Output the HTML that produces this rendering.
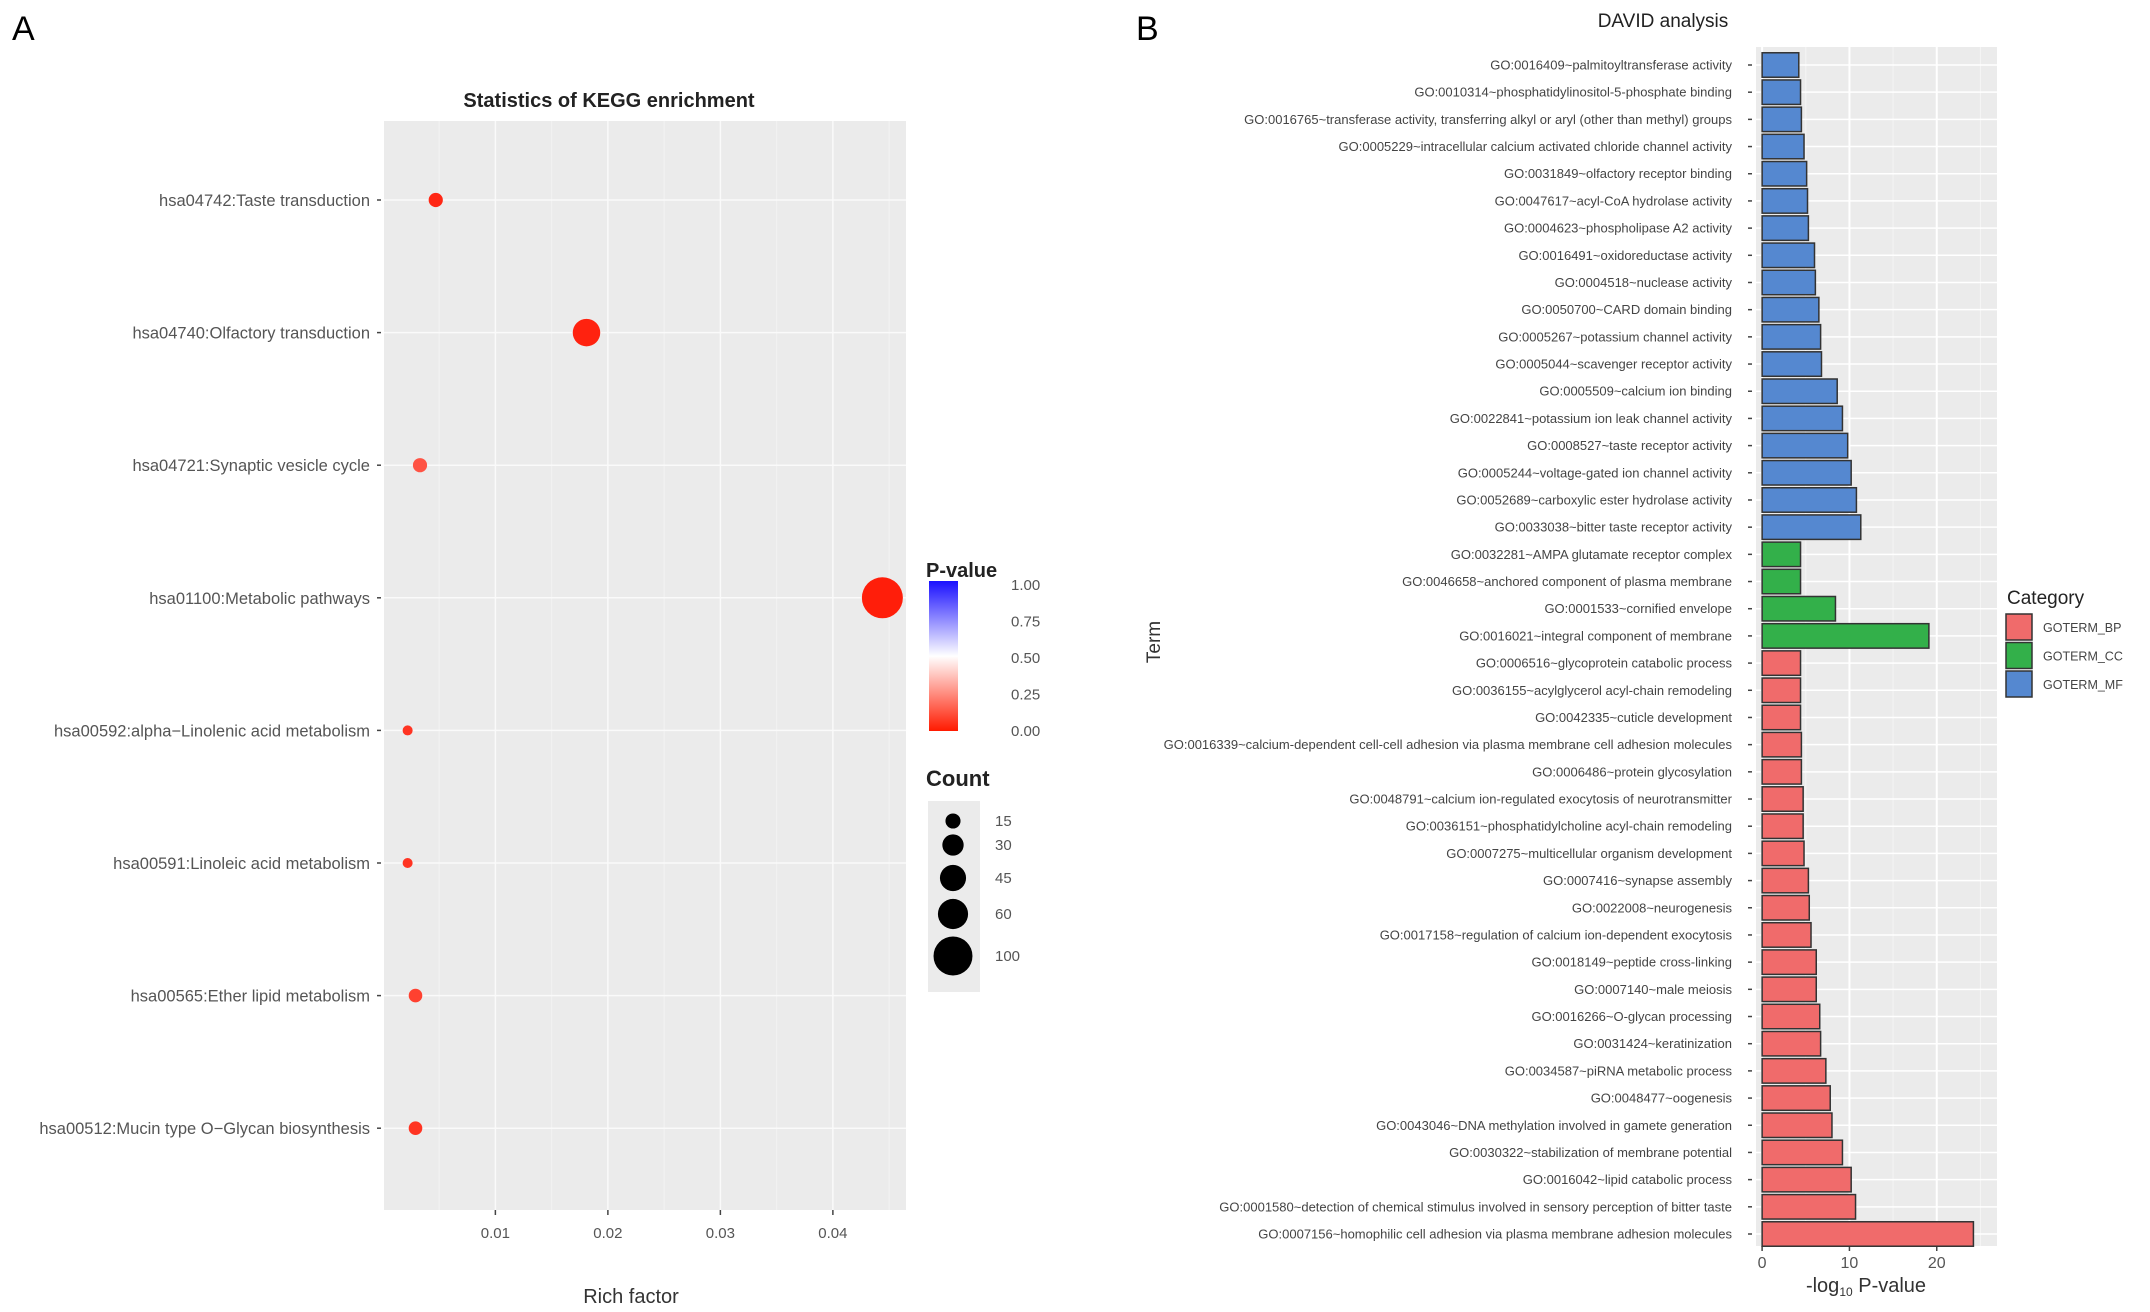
<!DOCTYPE html>
<html><head><meta charset="utf-8">
<style>
html,body{margin:0;padding:0;background:#fff;}
svg{display:block;font-family:"Liberation Sans",Arial,sans-serif;}
</style></head>
<body>
<svg id="fig" width="2150" height="1312" viewBox="0 0 2150 1312" xmlns="http://www.w3.org/2000/svg">
<text x="12" y="40" font-size="34" fill="#000">A</text>
<text x="1136" y="40" font-size="34" fill="#000">B</text>
<g id="panelA"></g>
<g id="panelB"></g>
</svg>
<script>
// ---------- Panel A data ----------
const keggTerms = ["hsa04742:Taste transduction","hsa04740:Olfactory transduction","hsa04721:Synaptic vesicle cycle","hsa01100:Metabolic pathways","hsa00592:alpha\u2212Linolenic acid metabolism","hsa00591:Linoleic acid metabolism","hsa00565:Ether lipid metabolism","hsa00512:Mucin type O\u2212Glycan biosynthesis"];
const keggRich = [0.0047,0.0181,0.0033,0.0444,0.0022,0.0022,0.0029,0.0029];
const keggCount = [12,45,12,100,6,6,11,11];
const keggP = [0.02,0.01,0.12,0.0,0.05,0.05,0.08,0.05];
const richTicks = [0.01,0.02,0.03,0.04];
const countLegend = [15,30,45,60,100];
const pTicks = [1.00,0.75,0.50,0.25,0.00];

// ---------- Panel B data ----------
const goTerms = ["GO:0016409~palmitoyltransferase activity","GO:0010314~phosphatidylinositol-5-phosphate binding","GO:0016765~transferase activity, transferring alkyl or aryl (other than methyl) groups","GO:0005229~intracellular calcium activated chloride channel activity","GO:0031849~olfactory receptor binding","GO:0047617~acyl-CoA hydrolase activity","GO:0004623~phospholipase A2 activity","GO:0016491~oxidoreductase activity","GO:0004518~nuclease activity","GO:0050700~CARD domain binding","GO:0005267~potassium channel activity","GO:0005044~scavenger receptor activity","GO:0005509~calcium ion binding","GO:0022841~potassium ion leak channel activity","GO:0008527~taste receptor activity","GO:0005244~voltage-gated ion channel activity","GO:0052689~carboxylic ester hydrolase activity","GO:0033038~bitter taste receptor activity","GO:0032281~AMPA glutamate receptor complex","GO:0046658~anchored component of plasma membrane","GO:0001533~cornified envelope","GO:0016021~integral component of membrane","GO:0006516~glycoprotein catabolic process","GO:0036155~acylglycerol acyl-chain remodeling","GO:0042335~cuticle development","GO:0016339~calcium-dependent cell-cell adhesion via plasma membrane cell adhesion molecules","GO:0006486~protein glycosylation","GO:0048791~calcium ion-regulated exocytosis of neurotransmitter","GO:0036151~phosphatidylcholine acyl-chain remodeling","GO:0007275~multicellular organism development","GO:0007416~synapse assembly","GO:0022008~neurogenesis","GO:0017158~regulation of calcium ion-dependent exocytosis","GO:0018149~peptide cross-linking","GO:0007140~male meiosis","GO:0016266~O-glycan processing","GO:0031424~keratinization","GO:0034587~piRNA metabolic process","GO:0048477~oogenesis","GO:0043046~DNA methylation involved in gamete generation","GO:0030322~stabilization of membrane potential","GO:0016042~lipid catabolic process","GO:0001580~detection of chemical stimulus involved in sensory perception of bitter taste","GO:0007156~homophilic cell adhesion via plasma membrane adhesion molecules"];
const goValues = [4.2,4.4,4.5,4.8,5.1,5.2,5.3,6.0,6.1,6.5,6.7,6.8,8.6,9.2,9.8,10.2,10.8,11.3,4.4,4.4,8.4,19.1,4.4,4.4,4.4,4.5,4.5,4.7,4.7,4.8,5.3,5.4,5.6,6.2,6.2,6.6,6.7,7.3,7.8,8.0,9.2,10.2,10.7,24.2];
const goCategory = ["MF","MF","MF","MF","MF","MF","MF","MF","MF","MF","MF","MF","MF","MF","MF","MF","MF","MF","CC","CC","CC","CC","BP","BP","BP","BP","BP","BP","BP","BP","BP","BP","BP","BP","BP","BP","BP","BP","BP","BP","BP","BP","BP","BP"];
const logTicks = [0,10,20];
const catNames = ["GOTERM_BP","GOTERM_CC","GOTERM_MF"];

const NS="http://www.w3.org/2000/svg";
function mk(parent,tag,attrs,text){const e=document.createElementNS(NS,tag);for(const k in attrs)e.setAttribute(k,attrs[k]);if(text!==undefined)e.textContent=text;parent.appendChild(e);return e;}

// ---------- Panel A ----------
(function(){
const g=document.getElementById('panelA');
const L=384,R=906,T=121,B=1210;
const xmin=0.0001,xmax=0.0465;
const xA=v=>L+(v-xmin)/(xmax-xmin)*(R-L);
const yA=i=>200+i*132.6;
const rA=c=>2.05*Math.sqrt(c);
let e=mk(g,'rect',{x:L,y:T,width:R-L,height:B-T,fill:'#ebebeb'});

const minors=[0.005,0.015,0.025,0.035,0.045];
minors.forEach(v=>{const m=mk(g,'line',{x1:xA(v),x2:xA(v),y1:T,y2:B,stroke:'#f2f2f2','stroke-width':1});});
richTicks.forEach(v=>{const m=mk(g,'line',{x1:xA(v),x2:xA(v),y1:T,y2:B,stroke:'#fafafa','stroke-width':1.5});
 const tk=mk(g,'line',{x1:xA(v),x2:xA(v),y1:B,y2:B+5,stroke:'#444','stroke-width':1.5});
 const t=mk(g,'text',{x:xA(v),y:B+28,'text-anchor':'middle','font-size':15,fill:'#555'},v.toFixed(2));});
keggTerms.forEach((s,i)=>{const y=yA(i);
 const gl=mk(g,'line',{x1:L,x2:R,y1:y,y2:y,stroke:'#fafafa','stroke-width':1.5});
 const tk=mk(g,'line',{x1:L-7,x2:L-3,y1:y,y2:y,stroke:'#444','stroke-width':1.5});
 const t=mk(g,'text',{x:L-14,y:y+6,'text-anchor':'end','font-size':16.5,fill:'#555',textLength:'',}, s);t.removeAttribute('textLength');});
const pcol=p=>{ if(p<=0.5){const f=p/0.5;return `rgb(255,${Math.round(30+f*220)},${Math.round(10+f*240)})`;} const f=(p-0.5)/0.5;return `rgb(${Math.round(250-f*240)},${Math.round(250-f*240)},255)`;};
keggTerms.forEach((s,i)=>{const c=mk(g,'circle',{cx:xA(keggRich[i]),cy:yA(i),r:rA(keggCount[i]),fill:pcol(keggP[i])});
 });
e=mk(g,'text',{x:609,y:107,'text-anchor':'middle','font-size':20,'font-weight':'bold',fill:'#222'},'Statistics of KEGG enrichment');
e=mk(g,'text',{x:631,y:1303,'text-anchor':'middle','font-size':20,fill:'#333'},'Rich factor');
e=mk(g,'text',{x:926,y:577,'font-size':20,'font-weight':'bold',fill:'#222'},'P-value');
const defs=mk(g,'defs',{});const lg=mk(defs,'linearGradient',{id:'pg',x1:0,y1:0,x2:0,y2:1});
mk(lg,'stop',{offset:'0%','stop-color':'#1a10ff'});mk(lg,'stop',{offset:'50%','stop-color':'#ffffff'});mk(lg,'stop',{offset:'100%','stop-color':'#ff1a00'});
e=mk(g,'rect',{x:929,y:581,width:29,height:150,fill:'url(#pg)'});
pTicks.forEach(v=>{const y=581+(1-v)*146+4;const t=mk(g,'text',{x:1011,y:y+5,'font-size':15,fill:'#555'},v.toFixed(2));});
e=mk(g,'text',{x:926,y:786,'font-size':22,'font-weight':'bold',fill:'#222'},'Count');
e=mk(g,'rect',{x:928,y:801,width:52,height:191,fill:'#ebebeb'});
const keyY=[821,845,878,914,956];
countLegend.forEach((c,i)=>{const r=rA(c)*0.95;
 const ci=mk(g,'circle',{cx:953,cy:keyY[i],r:r,fill:'#000'});
 const t=mk(g,'text',{x:995,y:keyY[i]+5,'font-size':15,fill:'#555'},String(c));});
})();

// ---------- Panel B ----------
(function(){
const g=document.getElementById('panelB');
const L=1756,R=1997,T=47,B=1246;
const vmin=-0.7,vmax=26.9;
const xB=v=>L+(v-vmin)/(vmax-vmin)*(R-L);
const step=(1234-65)/(goTerms.length-1);
const yB=i=>65+i*step;
const colors={BP:'#f06b6b',CC:'#33b04a',MF:'#5588d0'};
let e=mk(g,'rect',{x:L,y:T,width:R-L,height:B-T,fill:'#ebebeb'});
[5,15,25].forEach(v=>{const m=mk(g,'line',{x1:xB(v),x2:xB(v),y1:T,y2:B,stroke:'#f4f4f4','stroke-width':1});});
logTicks.forEach(v=>{const m=mk(g,'line',{x1:xB(v),x2:xB(v),y1:T,y2:B,stroke:'#fff','stroke-width':2});
 const tk=mk(g,'line',{x1:xB(v),x2:xB(v),y1:B,y2:B+5,stroke:'#444','stroke-width':1.5});
 const t=mk(g,'text',{x:xB(v),y:B+22,'text-anchor':'middle','font-size':16,fill:'#555'},String(v));});
goTerms.forEach((s,i)=>{const y=yB(i);
 const gl=mk(g,'line',{x1:L,x2:R,y1:y,y2:y,stroke:'#fff','stroke-width':1.5});
 const tk=mk(g,'line',{x1:L-8,x2:L-4,y1:y,y2:y,stroke:'#444','stroke-width':1.5});
 const t=mk(g,'text',{x:L-24,y:y+4.5,'text-anchor':'end','font-size':13,fill:'#444'},s);});
const bh=step*0.9;
goTerms.forEach((s,i)=>{const x0=xB(0),x1=xB(goValues[i]);
 const b=mk(g,'rect',{x:x0,y:yB(i)-bh/2,width:x1-x0,height:bh,fill:colors[goCategory[i]],stroke:'#333','stroke-width':1.5});
 });
e=mk(g,'text',{x:1663,y:27,'text-anchor':'middle','font-size':19,fill:'#222'},'DAVID analysis');
e=mk(g,'text',{x:0,y:0,'text-anchor':'middle','font-size':19,fill:'#333',transform:'translate(1160,642) rotate(-90)'},'Term');
const xt=mk(g,'text',{x:1866,y:1292,'text-anchor':'middle','font-size':20,fill:'#333'});
mk(xt,'tspan',{},'-log');mk(xt,'tspan',{'font-size':12,dy:4},'10');mk(xt,'tspan',{dy:-4},' P-value');
e=mk(g,'text',{x:2007,y:604,'font-size':19,fill:'#222'},'Category');
const cc=['BP','CC','MF'];
catNames.forEach((n,i)=>{const y=614+i*28.5;
 const k=mk(g,'rect',{x:2006,y:y,width:26,height:26,fill:colors[cc[i]],stroke:'#333','stroke-width':1.5});
 const t=mk(g,'text',{x:2043,y:y+18,'font-size':12.5,fill:'#444'},n);});
})();
</script>
</body></html>
